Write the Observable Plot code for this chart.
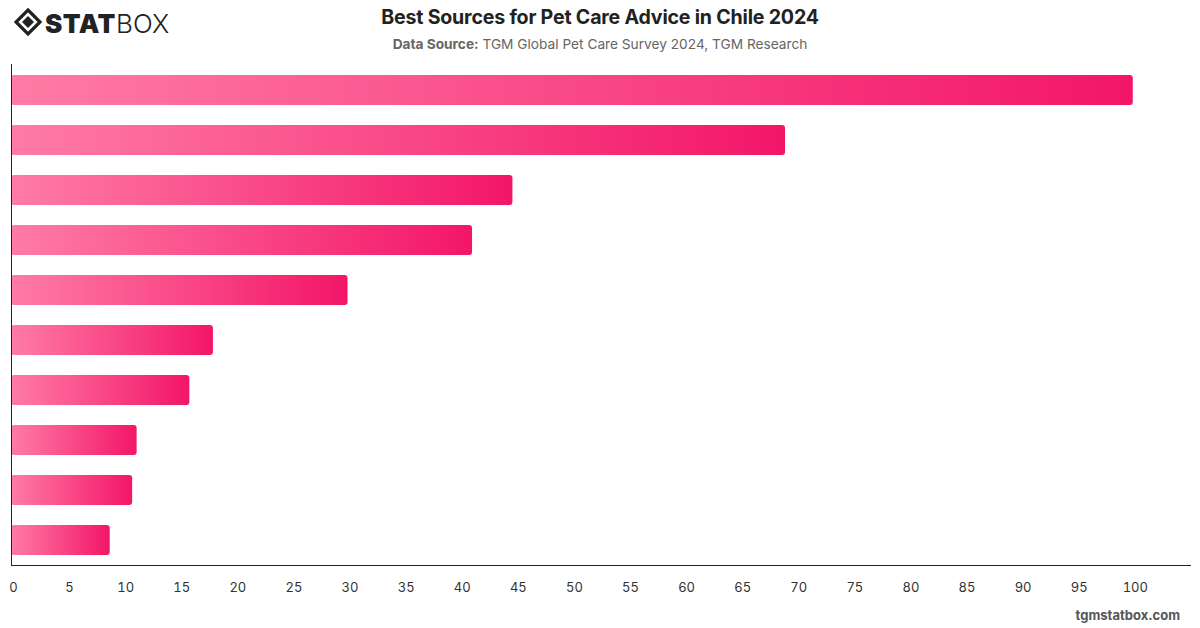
<!DOCTYPE html>
<html>
<head>
<meta charset="utf-8">
<script src="https://cdn.jsdelivr.net/npm/d3@7"></script>
<script src="https://cdn.jsdelivr.net/npm/@observablehq/plot@0.6"></script>
<style>
  html, body { margin: 0; padding: 0; background: #fff; }
  #wrap { position: relative; width: 1200px; height: 628px; overflow: hidden; font-family: Inter, "Noto Sans", sans-serif; }
  #chart { position: absolute; left: 0; top: 0; }
  #title { position: absolute; left: 0; width: 1200px; top: 5px; text-align: center; font-size: 19.6px; font-weight: 700; color: #222; letter-spacing: -0.2px; }
  #subtitle { position: absolute; left: 0; width: 1200px; top: 36px; text-align: center; font-size: 13.7px; color: #666; }
  #subtitle b { font-weight: 700; }
  #logo { position: absolute; left: 14px; top: 7px; }
  #footer { position: absolute; right: 20px; top: 607px; font-size: 13px; font-weight: 700; color: #555; }
</style>
</head>
<body>
<div id="wrap">
  <div id="chart"></div>
  <svg id="logo" width="160" height="32" viewBox="0 0 160 32">
    <g transform="translate(14,15)" fill="none" stroke="#222">
      <path d="M0,-12 L12,0 L0,12 L-12,0 Z" stroke-width="3.2"/>
      <path d="M0,-6 L6,0 L0,6 L-6,0 Z" fill="#222" stroke="none"/>
    </g>
    <text x="31" y="26" font-family="Inter, 'DejaVu Sans', sans-serif" font-size="26" font-weight="900" fill="#222" letter-spacing="0.5">STAT</text>
    <text x="102" y="26" font-family="Inter, 'DejaVu Sans', sans-serif" font-size="26" font-weight="300" fill="#222">BOX</text>
  </svg>
  <div id="title">Best Sources for Pet Care Advice in Chile 2024</div>
  <div id="subtitle"><b>Data Source:</b> TGM Global Pet Care Survey 2024, TGM Research</div>
  <div id="footer">tgmstatbox.com</div>
</div>
<script>
// Share of respondents naming each advice source (ranked, largest first)
const sources = ["Source 1", "Source 2", "Source 3", "Source 4", "Source 5",
                 "Source 6", "Source 7", "Source 8", "Source 9", "Source 10"];
const shares = [100, 69, 44.7, 41.1, 30, 18, 15.9, 11.2, 10.8, 8.8];
const xTicks = d3.range(0, 101, 5);

const rows = sources.map((s, i) => ({source: s, value: shares[i]}));

const plot = Plot.plot({
  width: 1200,
  height: 628,
  marginTop: 64,
  marginBottom: 63,
  marginLeft: 11,
  marginRight: 10,
  style: {fontFamily: "Inter, 'Noto Sans', sans-serif", fontSize: "13px", color: "#333", background: "transparent"},
  x: {domain: [0, 105.1], axis: null},
  y: {domain: sources, paddingInner: 0.4, paddingOuter: 0.2, axis: null},
  marks: [
    Plot.barX(rows, {x: "value", y: "source", fill: "url(#barGrad)", rx: 3}),
    Plot.frame({anchor: "left", stroke: "#222"}),
    Plot.frame({anchor: "bottom", stroke: "#222"}),
    Plot.axisX({ticks: xTicks, tickSize: 0, tickPadding: 17, tickFormat: d => d, label: null, fill: "#333", fontSize: 13, dx: 2})
  ]
});

// Left-to-right pink gradient, stretched over each bar
const ns = "http://www.w3.org/2000/svg";
const defs = document.createElementNS(ns, "defs");
const grad = document.createElementNS(ns, "linearGradient");
grad.setAttribute("id", "barGrad");
grad.setAttribute("x1", "0"); grad.setAttribute("x2", "1");
grad.setAttribute("y1", "0"); grad.setAttribute("y2", "0");
[["0%", "#ff7ba6"], ["100%", "#f31668"]].forEach(([o, c]) => {
  const st = document.createElementNS(ns, "stop");
  st.setAttribute("offset", o);
  st.setAttribute("stop-color", c);
  grad.appendChild(st);
});
defs.appendChild(grad);
plot.insertBefore(defs, plot.firstChild);

document.getElementById("chart").appendChild(plot);
</script>
</body>
</html>
